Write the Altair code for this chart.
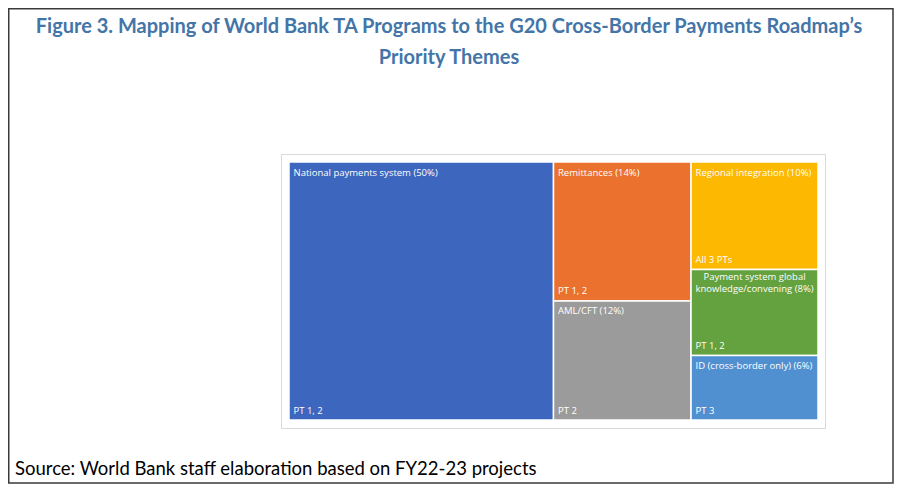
import altair as alt
import pandas as pd

# ---- data ----
names = ["National payments system", "Remittances", "AML/CFT",
         "Regional integration", "Payment system global knowledge/convening",
         "ID (cross-border only)"]
shares = [50, 14, 12, 10, 8, 6]
themes = ["PT 1, 2", "PT 1, 2", "PT 2", "All 3 PTs", "PT 1, 2", "PT 3"]
label_lines = [["National payments system (50%)"], ["Remittances (14%)"], ["AML/CFT (12%)"],
               ["Regional integration (10%)"], ["Payment system global", "knowledge/convening (8%)"],
               ["ID (cross-border only) (6%)"]]
colors = ["#3D66BE", "#EA722E", "#9B9B9B", "#FDB801", "#64A13F", "#5090D0"]

title_lines = ["Figure 3. Mapping of World Bank TA Programs to the G20 Cross-Border Payments Roadmap\u2019s",
               "Priority Themes"]
source_text = "Source: World Bank staff elaboration based on FY22-23 projects"

# ---- squarified treemap layout ----
W, H = 529.0, 258.0


def squarify(vals, x, y, w, h):
    total = sum(vals)
    areas = [v * w * h / total for v in vals]
    rects = []
    while areas:
        short = min(w, h)

        def worst(row):
            s = sum(row)
            return max(max(short * short * r / (s * s), s * s / (short * short * r)) for r in row)

        row = [areas[0]]
        i = 1
        while i < len(areas) and worst(row + [areas[i]]) <= worst(row):
            row.append(areas[i])
            i += 1
        s = sum(row)
        if w >= h:
            cw = s / h
            yy = y
            for r in row:
                rh = r / cw
                rects.append((x, yy, x + cw, yy + rh))
                yy += rh
            x += cw
            w -= cw
        else:
            rh = s / w
            xx = x
            for r in row:
                rw = r / rh
                rects.append((xx, y, xx + rw, y + rh))
                xx += rw
            y += rh
            h -= rh
        areas = areas[i:]
    return rects


rects = squarify(shares, 0.0, 0.0, W, H)
rows = []
for n, s, t, ll, c, (x0, y0, x1, y1) in zip(names, shares, themes, label_lines, colors, rects):
    multi = len(ll) > 1
    rows.append(dict(name=n, share=s, theme=t, title="\n".join(ll), multi=multi,
                     x0=x0, y0=y0, x1=x1, y1=y1,
                     tx=(x0 + x1) / 2 if multi else x0 + 4.5,
                     ty=y0 + 7 if multi else y0 + 10.5,
                     bx=x0 + 4.5, by=y1 - 9.5))
df = pd.DataFrame(rows)

xs = alt.Scale(domain=[0, W], range=[281, 810])
ys = alt.Scale(domain=[0, H], range=[154, 412])

tiles = alt.Chart(df).mark_rect(stroke="white", strokeWidth=1.5).encode(
    x=alt.X("x0:Q", scale=xs, axis=None),
    x2="x1:Q",
    y=alt.Y("y0:Q", scale=ys, axis=None),
    y2="y1:Q",
    color=alt.Color("name:N", scale=alt.Scale(domain=names, range=colors), legend=None),
)

lab_font = "Open Sans"
lab_size = 9.5

top_left = alt.Chart(df).transform_filter("!datum.multi").mark_text(
    align="left", baseline="middle", color="white", font=lab_font, fontSize=lab_size
).encode(x=alt.X("tx:Q", scale=xs, axis=None), y=alt.Y("ty:Q", scale=ys, axis=None), text="title:N")

top_center = alt.Chart(df).transform_filter("datum.multi").mark_text(
    align="center", baseline="middle", color="white", font=lab_font, fontSize=lab_size,
    lineBreak="\n", lineHeight=12
).encode(x=alt.X("tx:Q", scale=xs, axis=None), y=alt.Y("ty:Q", scale=ys, axis=None), text="title:N")

bottom = alt.Chart(df).mark_text(
    align="left", baseline="middle", color="white", font=lab_font, fontSize=lab_size
).encode(x=alt.X("bx:Q", scale=xs, axis=None), y=alt.Y("by:Q", scale=ys, axis=None), text="theme:N")

one = alt.Data(values=[{"k": 1}])

outer = alt.Chart(one).mark_rect(filled=False, stroke="#3a3a3a", strokeWidth=1.5).encode(
    x=alt.value(0.75), x2=alt.value(885), y=alt.value(0.75), y2=alt.value(475))
inner = alt.Chart(one).mark_rect(filled=False, stroke="#d9d9d9", strokeWidth=1).encode(
    x=alt.value(273.5), x2=alt.value(817.5), y=alt.value(146.5), y2=alt.value(420.5))

title1 = alt.Chart(one).mark_text(
    text=title_lines[0], align="center", baseline="middle", font="Lato", fontWeight="bold",
    fontSize=20, color="#4375A8").encode(x=alt.value(441), y=alt.value(19))
title2 = alt.Chart(one).mark_text(
    text=title_lines[1], align="center", baseline="middle", font="Lato", fontWeight="bold",
    fontSize=20, color="#4375A8").encode(x=alt.value(441), y=alt.value(50))
source = alt.Chart(one).mark_text(
    text=source_text, align="left", baseline="middle", font="Lato",
    fontSize=18.5, color="black").encode(x=alt.value(7), y=alt.value(461))

chart = alt.layer(outer, inner, tiles, top_left, top_center, bottom, title1, title2, source).properties(
    width=887, height=476, autosize="none", padding=0, background="white"
).configure_view(strokeWidth=0)

chart.save("out.html", embed_options={"renderer": "svg", "actions": False})
